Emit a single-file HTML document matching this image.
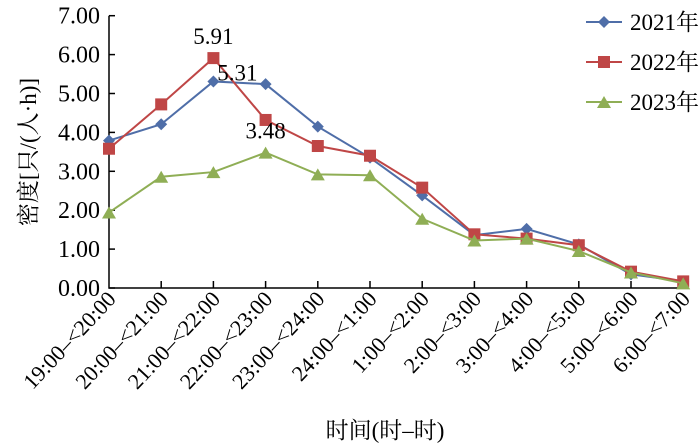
<!DOCTYPE html>
<html><head><meta charset="utf-8"><style>
body{margin:0;background:#fff}
svg{display:block;font-family:"Liberation Serif","Noto Serif CJK SC",serif}
</style></head><body>
<svg id="c" width="700" height="447"></svg>
<script>
const categories=["19:00–<20:00","20:00–<21:00","21:00–<22:00","22:00–<23:00","23:00–<24:00","24:00–<1:00","1:00–<2:00","2:00–<3:00","3:00–<4:00","4:00–<5:00","5:00–<6:00","6:00–<7:00"];
const s2021=[3.79,4.21,5.31,5.24,4.15,3.35,2.38,1.36,1.52,1.12,0.35,0.17];
const s2022=[3.58,4.72,5.91,4.32,3.65,3.40,2.58,1.38,1.27,1.10,0.42,0.17];
const s2023=[1.94,2.86,2.98,3.48,2.92,2.90,1.78,1.22,1.27,0.95,0.40,0.12];
const yTicks=[0,1,2,3,4,5,6,7];
const labels=[{series:1,i:2,text:"5.91"},{series:0,i:2,text:"5.31"},{series:2,i:3,text:"3.48"}];
const NS="http://www.w3.org/2000/svg",svg=document.getElementById('c');
const x0=109,dx=52.2,y0=288,ky=38.9;
const X=i=>x0+i*dx, Y=v=>y0-v*ky;
function el(t,a,p){const e=document.createElementNS(NS,t);for(const k in a)e.setAttribute(k,a[k]);(p||svg).appendChild(e);return e;}
let ax=el('path',{d:`M${x0},${Y(7)}V${y0}H${X(11)}`,stroke:'#000','stroke-width':1.5,fill:'none'});


yTicks.forEach(v=>{
 el('line',{x1:x0,x2:x0+6,y1:Y(v),y2:Y(v),stroke:'#000','stroke-width':1.5});
 const t=el('text',{x:x0-9,y:Y(v)+8,'text-anchor':'end','font-size':24});t.textContent=v.toFixed(2);
 
 
});
categories.forEach((c,i)=>{
 if(i>0)el('line',{x1:X(i),x2:X(i),y1:y0,y2:y0-7,stroke:'#000','stroke-width':1.5});
 const t=el('text',{x:0,y:0,'text-anchor':'end','font-size':22,transform:`translate(${X(i)+8},${y0+12}) rotate(-47)`});t.textContent=c;
 
 
});
const series=[{d:s2021,c:'#4f6ea8',m:'d',n:'2021年'},{d:s2022,c:'#bf4646',m:'s',n:'2022年'},{d:s2023,c:'#8fae55',m:'t',n:'2023年'}];
function marker(m,x,y,c){
 if(m==='d')return el('path',{d:`M${x},${y-6}L${x+6},${y}L${x},${y+6}L${x-6},${y}Z`,fill:c});
 if(m==='s')return el('rect',{x:x-6,y:y-6,width:12,height:12,fill:c});
 return el('path',{d:`M${x},${y-6}L${x+7},${y+6}L${x-7},${y+6}Z`,fill:c});
}
series.forEach((s,k)=>{
 const l=el('polyline',{points:s.d.map((v,i)=>X(i)+','+Y(v)).join(' '),fill:'none',stroke:s.c,'stroke-width':2});
 
 
 s.d.forEach((v,i)=>{const m=marker(s.m,X(i),Y(v),s.c);
 
 });
 const ly=22+k*40;
 el('line',{x1:586,x2:622,y1:ly,y2:ly,stroke:s.c,'stroke-width':2});
 marker(s.m,604,ly,s.c);
 const t=el('text',{x:630,y:ly+8,'font-size':23});t.textContent=s.n;
 
 
});
labels.forEach(o=>{
 const v=series[o.series].d[o.i];
 const dxo=o.series===0?24:0, dyo=o.series===0?-1:-14;
 const t=el('text',{x:X(o.i)+dxo,y:Y(v)+dyo,'text-anchor':'middle','font-size':23});t.textContent=o.text;
 
 
});
const xt=el('text',{x:385,y:438,'text-anchor':'middle','font-size':23});xt.textContent='时间(时–时)';


const yt=el('text',{x:0,y:0,'text-anchor':'middle','font-size':23,transform:'translate(36,152) rotate(-90)'});yt.textContent='密度[只/(人·h)]';


</script>
</body></html>
